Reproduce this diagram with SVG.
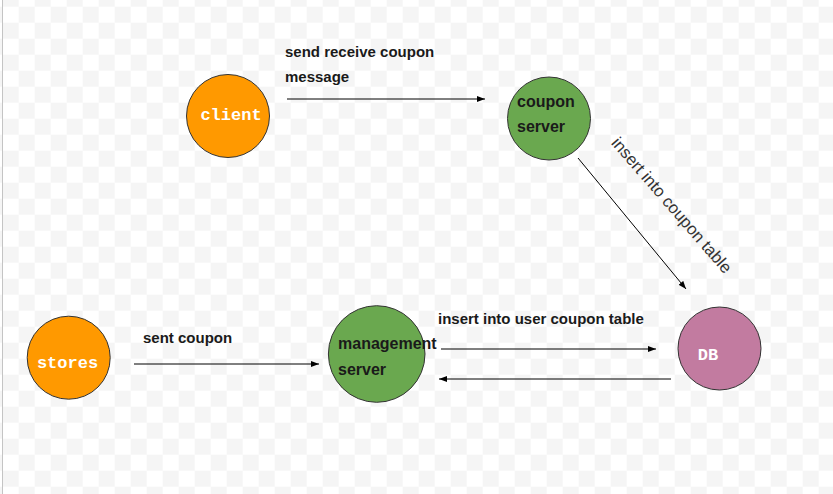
<svg xmlns="http://www.w3.org/2000/svg" width="833" height="494" viewBox="0 0 833 494">
  <defs>
    <pattern id="checker" width="32" height="32" patternUnits="userSpaceOnUse" x="2.67" y="-9.33">
      <rect width="32" height="32" fill="#ffffff"/>
      <rect width="16" height="16" fill="#f5f5f5"/>
      <rect x="16" y="16" width="16" height="16" fill="#f5f5f5"/>
    </pattern>
    <marker id="arrow" markerUnits="userSpaceOnUse" markerWidth="9" markerHeight="7" refX="8" refY="3" orient="auto">
      <path d="M0,0 L8,3 L0,6 Z" fill="#000"/>
    </marker>
    <style>
      .node { stroke: #333; stroke-width: 1; }
      .orange { fill: #ff9900; }
      .green { fill: #6aa84f; }
      .pink { fill: #c27ba0; }
      .mono { font-family: "Liberation Mono", "Courier New", monospace; font-weight: bold; font-size: 17px; fill: #ffffff; }
      .ntext { font-family: "Liberation Sans", Arial, sans-serif; font-weight: bold; font-size: 16px; fill: #1a1a1a; }
      .label { font-family: "Liberation Sans", Arial, sans-serif; font-weight: bold; font-size: 15px; fill: #1a1a1a; }
      .rlabel { font-family: "Liberation Sans", Arial, sans-serif; font-size: 16.8px; fill: #333; }
      .edge { stroke: #000; stroke-width: 1; fill: none; marker-end: url(#arrow); }
    </style>
  </defs>

  <rect width="833" height="494" fill="url(#checker)"/>
  <line x1="2.5" y1="0" x2="2.5" y2="494" stroke="#c4c4c4" stroke-width="1"/>

  <g id="connectors">
    <line class="edge" x1="287" y1="99" x2="485" y2="99"/>
    <line class="edge" x1="578" y1="158" x2="686" y2="289"/>
    <line class="edge" x1="134" y1="364" x2="319" y2="364"/>
    <line class="edge" x1="441" y1="349" x2="656" y2="349"/>
    <line class="edge" x1="671" y1="379" x2="439" y2="379"/>
  </g>

  <g id="labels">
    <text class="label" x="285" y="57">send receive coupon</text>
    <text class="label" x="285" y="82">message</text>
    <text class="label" x="143" y="343">sent coupon</text>
    <text class="label" x="438" y="324">insert into user coupon table</text>
    <text class="rlabel" transform="translate(667.5,209) rotate(49)" text-anchor="middle">insert into coupon table</text>
  </g>

  <g id="client">
    <circle class="node orange" cx="228" cy="116" r="41.5"/>
    <text class="mono" x="231" y="120" text-anchor="middle">client</text>
  </g>

  <g id="coupon-server">
    <circle class="node green" cx="549" cy="118.5" r="41.5"/>
    <text class="ntext" x="517" y="107">coupon</text>
    <text class="ntext" x="517" y="132">server</text>
  </g>

  <g id="stores">
    <circle class="node orange" cx="68.7" cy="357.7" r="41.5"/>
    <text class="mono" x="67.5" y="368" text-anchor="middle">stores</text>
  </g>

  <g id="management-server">
    <circle class="node green" cx="376.7" cy="354" r="48.3"/>
    <text class="ntext" x="338" y="349">management</text>
    <text class="ntext" x="338" y="375">server</text>
  </g>

  <g id="DB">
    <circle class="node pink" cx="719.5" cy="348.5" r="41.5"/>
    <text class="mono" x="708" y="360" text-anchor="middle">DB</text>
  </g>
</svg>
